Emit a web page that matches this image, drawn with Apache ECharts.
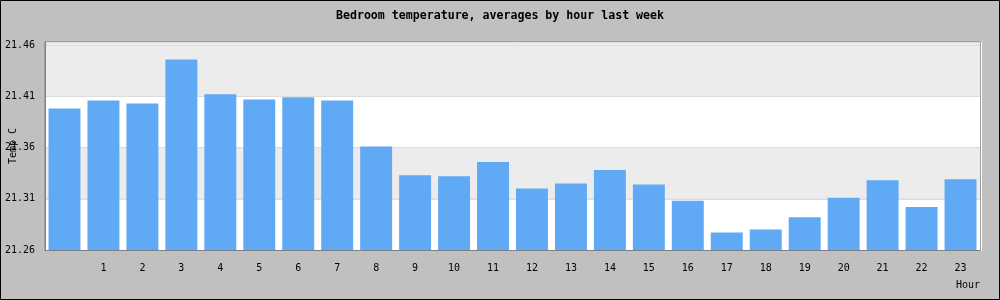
<!DOCTYPE html>
<html>
<head>
<meta charset="utf-8">
<script src="https://cdn.jsdelivr.net/npm/echarts@6/dist/echarts.min.js"></script>
<style>
html,body{margin:0;padding:0;background:#c0c0c0;}
#c{width:1000px;height:300px;}
</style>
</head>
<body>
<div id="c"></div>
<script>
var titleText = 'Bedroom temperature, averages by hour last week';
var hourLabels = ['', '1', '2', '3', '4', '5', '6', '7', '8', '9', '10', '11', '12', '13', '14', '15', '16', '17', '18', '19', '20', '21', '22', '23'];
var tempValues = [21.398, 21.406, 21.403, 21.446, 21.412, 21.407, 21.409, 21.406, 21.361, 21.333, 21.332, 21.346, 21.320, 21.325, 21.338, 21.324, 21.308, 21.277, 21.280, 21.292, 21.311, 21.328, 21.302, 21.329];
var yMin = 21.26, yMax = 21.463, yStep = 0.05;

var font = 'DejaVu Sans Mono';
var chart = echarts.init(document.getElementById('c'), null, {renderer: 'canvas'});
chart.setOption({
  backgroundColor: '#c0c0c0',
  animation: false,
  title: {
    text: titleText,
    left: 'center',
    top: 5,
    textStyle: {fontFamily: font, fontSize: 11.6, fontWeight: 'bold', color: '#000'}
  },
  grid: {
    left: 45, right: 20, top: 42, bottom: 50,
    containLabel: false, outerBoundsMode: 'none',
    show: true, borderColor: '#808080', borderWidth: 1, backgroundColor: 'transparent'
  },
  xAxis: {
    type: 'category',
    data: hourLabels,
    name: 'Hour',
    nameLocation: 'end',
    nameGap: 0,
    nameMoveOverlap: false,
    nameTextStyle: {fontFamily: font, fontSize: 10, color: '#000', align: 'right', verticalAlign: 'top', padding: [30, 0, 0, 0]},
    axisLine: {lineStyle: {color: '#808080', width: 1}},
    axisTick: {show: false},
    axisLabel: {fontFamily: font, fontSize: 10, color: '#000', margin: 13, interval: 0}
  },
  yAxis: {
    type: 'value',
    min: yMin, max: yMax, interval: yStep,
    name: 'Temp C',
    nameLocation: 'middle',
    nameGap: 27,
    nameMoveOverlap: false,
    nameTextStyle: {fontFamily: font, fontSize: 10, color: '#000'},
    axisLine: {show: true, lineStyle: {color: '#808080', width: 1}},
    axisTick: {show: false},
    axisLabel: {fontFamily: font, fontSize: 10, color: '#000', margin: 10, showMaxLabel: false,
      formatter: function (v) { return v.toFixed(2); }},
    splitLine: {show: true, lineStyle: {color: '#dcdcdc', width: 1}},
    splitArea: {show: true, areaStyle: {color: ['#ffffff', '#ececec', '#ffffff', '#ececec', '#ececec']}}
  },
  series: [{
    type: 'bar',
    data: tempValues,
    barCategoryGap: '18%',
    itemStyle: {color: '#60a9f5'}
  }],
  graphic: [
    {type: 'line', shape: {x1: 981.5, y1: 42, x2: 981.5, y2: 251}, style: {stroke: '#ffffff', lineWidth: 1}, z: 100},
    {type: 'rect', shape: {x: 0.5, y: 0.5, width: 999, height: 299}, style: {fill: 'none', stroke: '#000', lineWidth: 1}, z: 100}
  ]
});
</script>
</body>
</html>
